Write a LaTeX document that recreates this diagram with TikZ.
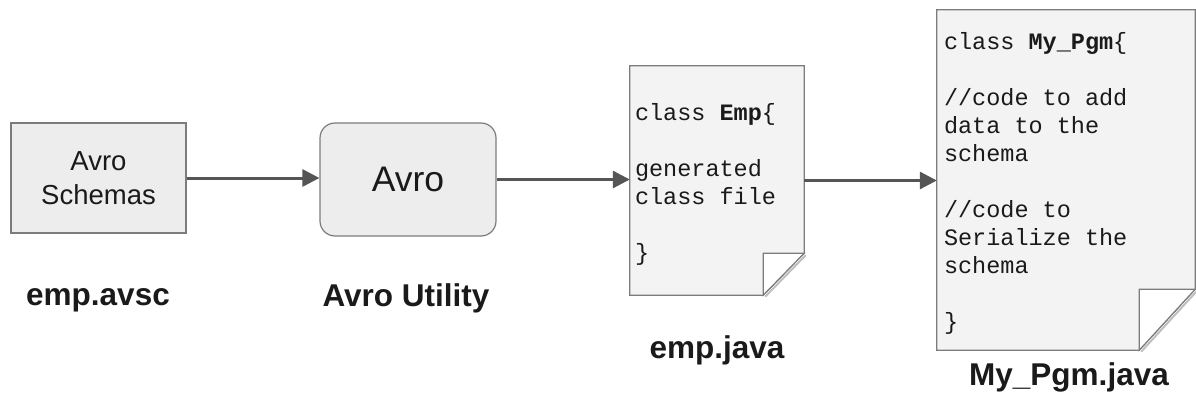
\documentclass[tikz,border=0pt]{standalone}
\usepackage{fontspec}
\setmainfont{Liberation Sans}
\setmonofont{Liberation Mono}
\usepackage{tikz}
\usetikzlibrary{calc,positioning,backgrounds,arrows.meta}
\definecolor{boxfill}{HTML}{EDEDED}
\definecolor{boxline}{HTML}{7C7C7C}
\definecolor{docfill}{HTML}{F3F3F3}
\definecolor{arrowgray}{HTML}{555555}
\definecolor{ink}{HTML}{1A1A1A}

\begin{document}
\begin{tikzpicture}[x=1pt, y=-1pt, text=ink,
	box/.style = {draw=boxline, fill=boxfill, line width=1.2pt, align=center},
	docbox/.style = {inner sep=0pt},
	code/.style = {inner sep=0pt, anchor=north west, align=left, font=\ttfamily\fontsize{23.5}{28}\selectfont},
	lbl/.style = {font=\bfseries\fontsize{31.5}{35}\selectfont},
	link/.style = {draw=arrowgray, line width=3pt, -{Triangle[length=17pt, width=17pt]}}]
	\useasboundingbox (0,0) rectangle (1196,412);

	% the two tools
	\node[box, minimum width=175pt, minimum height=110pt, font=\fontsize{27.5}{34}\selectfont] (schemas) at (98.5,178) {Avro\\Schemas};
	\node[box, rounded corners=15pt, minimum width=176pt, minimum height=113pt, font=\fontsize{35.5}{40}\selectfont] (avro) at (408,179.5) {Avro};

	% the two java files
	\node[docbox, minimum width=174pt, minimum height=229pt] (empjava) at (717,180.5) {};
	\node[docbox, minimum width=258pt, minimum height=340pt] (mypgm) at (1066,180) {};
	\node[code, below right=37pt and 5pt of empjava.north west] (empcode)
		{class \textbf{Emp}\{\\[28pt]generated\\class file\\[28pt]\}};
	\node[code, below right=22pt and 7pt of mypgm.north west] (pgmcode)
		{class \textbf{My\_Pgm}\{\\[28pt]//code to add\\data to the\\schema\\[28pt]//code to\\Serialize the\\schema\\[28pt]\}};

	\begin{pgfonlayer}{background}
		\draw[boxline, line width=1.2pt, fill=docfill] (empjava.north west) -- (empjava.north east) -- ($(empjava.south east)+(0,-42)$) -- ($(empjava.south east)+(-41,0)$) -- (empjava.south west) -- cycle;
		\draw[black!25, line width=2pt] ($(empjava.south east)+(1.5,-40)$) -- ($(empjava.south east)+(-39,1.5)$);
		\fill[white] ($(empjava.south east)+(-41,0)$) -- ++(0,-42) -- ++(41,0) -- cycle;
		\draw[boxline, line width=1.2pt] ($(empjava.south east)+(-41,0)$) -- ++(0,-42) -- ++(41,0) -- cycle;

		\draw[boxline, line width=1.2pt, fill=docfill] (mypgm.north west) -- (mypgm.north east) -- ($(mypgm.south east)+(0,-61)$) -- ($(mypgm.south east)+(-56,0)$) -- (mypgm.south west) -- cycle;
		\draw[black!25, line width=2pt] ($(mypgm.south east)+(1.5,-59)$) -- ($(mypgm.south east)+(-54,1.5)$);
		\fill[white] ($(mypgm.south east)+(-56,0)$) -- ++(0,-61) -- ++(56,0) -- cycle;
		\draw[boxline, line width=1.2pt] ($(mypgm.south east)+(-56,0)$) -- ++(0,-61) -- ++(56,0) -- cycle;
	\end{pgfonlayer}

	% file names
	\node[lbl] (avsc) at (98,300) {emp.avsc};
	\node[lbl] (utility) at (406,298) {Avro Utility};
	\node[lbl] (javaname) at (717,350) {emp.java};
	\node[lbl] (pgmname) at (1069,377) {My\_Pgm.java};

	% flow
	\draw[link] (schemas.east) -- (schemas.east -| avro.west);
	\draw[link] (avro.east) -- (avro.east -| empjava.west);
	\draw[link] (empjava.east) -- (empjava.east -| mypgm.west);
\end{tikzpicture}
\end{document}
